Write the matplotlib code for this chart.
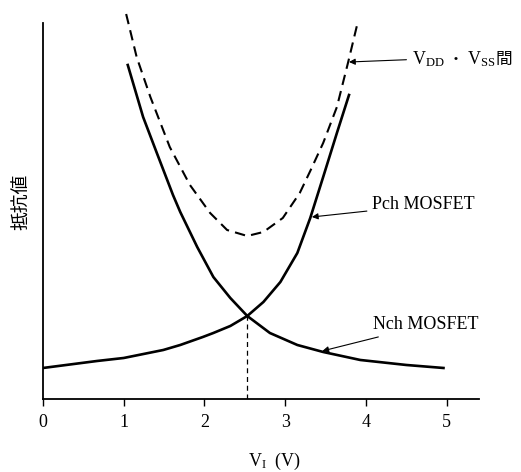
import matplotlib
matplotlib.use("Agg")
import matplotlib.pyplot as plt

plt.rcParams['font.family'] = ['Liberation Serif', 'Noto Sans CJK JP']
plt.rcParams['mathtext.fontset'] = 'custom'
plt.rcParams['mathtext.rm'] = 'Liberation Serif'
plt.rcParams['mathtext.it'] = 'Liberation Serif:italic'

# values (resistance in arbitrary units)
nch_x = [1.05, 1.24, 1.41, 1.61, 1.70, 1.91, 2.11, 2.32, 2.53, 2.81, 3.15, 3.47, 3.93, 4.5, 4.96]
nch_y = [334, 282, 246, 204, 187, 152, 122, 101, 83, 66, 54, 47, 39, 34, 31]

pch_x = [0.0, 0.67, 1.0, 1.49, 1.70, 1.98, 2.11, 2.32, 2.53, 2.73, 2.94, 3.15, 3.31, 3.47, 3.64, 3.79]
pch_y = [31, 38, 41, 49, 54, 62, 66, 73, 83, 97, 117, 146, 181, 222, 266, 304]

sum_x = [1.03, 1.16, 1.33, 1.57, 1.82, 2.07, 2.28, 2.53, 2.73, 2.97, 3.18, 3.31, 3.47, 3.64, 3.78, 3.89]
sum_y = [385, 342, 302, 252, 214, 186, 169, 163, 167, 181, 206, 228, 256, 292, 337, 374]

v_cross = 2.53
r_cross = 83

fig = plt.figure(figsize=(5.21, 4.72), dpi=100)
ax = fig.add_axes([0.0825, 0.1547, 0.8369, 0.8453])

ax.plot(nch_x, nch_y, color='black', lw=1.9, solid_joinstyle='round')
ax.plot(pch_x, pch_y, color='black', lw=1.9, solid_joinstyle='round')
ax.plot(sum_x, sum_y, color='black', lw=1.5, ls=(0, (5, 3)))
ax.plot([v_cross, v_cross], [0, r_cross], color='black', lw=0.9, ls=(0, (4, 3)))

ax.set_xlim(0, 5.4)
ax.set_ylim(0, 399)
ax.spines['top'].set_visible(False)
ax.spines['right'].set_visible(False)
ax.spines['left'].set_bounds(0, 376)
ax.spines['left'].set_linewidth(1.3)
ax.spines['bottom'].set_linewidth(1.3)
ax.set_yticks([])
ax.set_xticks([0, 1, 2, 3, 4, 5])
ax.tick_params(axis='x', direction='out', length=5, width=1, labelsize=13, pad=6)

ax.set_xlabel('V$_\\mathrm{I}$  (V)', fontsize=13)
ax.xaxis.set_label_coords(0.53, -0.13)
ax.set_ylabel('抵抗値', fontsize=13.5)
ax.yaxis.set_label_coords(-0.028, 0.494)

arrow = dict(arrowstyle='-|>', color='black', lw=0.8, mutation_scale=9,
             shrinkA=2, shrinkB=0)
base = 335
t1 = ax.annotate('V$_\\mathrm{DD}$', xy=(3.79, 337), xytext=(4.57, base),
                 fontsize=13, va='baseline', arrowprops=arrow)
t2 = ax.annotate(' ・ ', xy=(1, base), xycoords=(t1, 'data'), fontsize=11,
                 va='baseline', family=['Noto Sans CJK JP'])
t3 = ax.annotate('V$_\\mathrm{SS}$', xy=(1, base), xycoords=(t2, 'data'),
                 fontsize=13, va='baseline')
ax.annotate('間', xy=(1, base), xycoords=(t3, 'data'), fontsize=12,
            va='baseline', family=['Noto Sans CJK JP'])

ax.annotate('Pch MOSFET', xy=(3.33, 182), xytext=(4.08, 194),
            fontsize=13, va='center', arrowprops=arrow)
ax.annotate('Nch MOSFET', xy=(3.46, 48), xytext=(4.09, 74),
            fontsize=13, va='center', arrowprops=arrow)

fig.savefig('out.png', dpi=100)
